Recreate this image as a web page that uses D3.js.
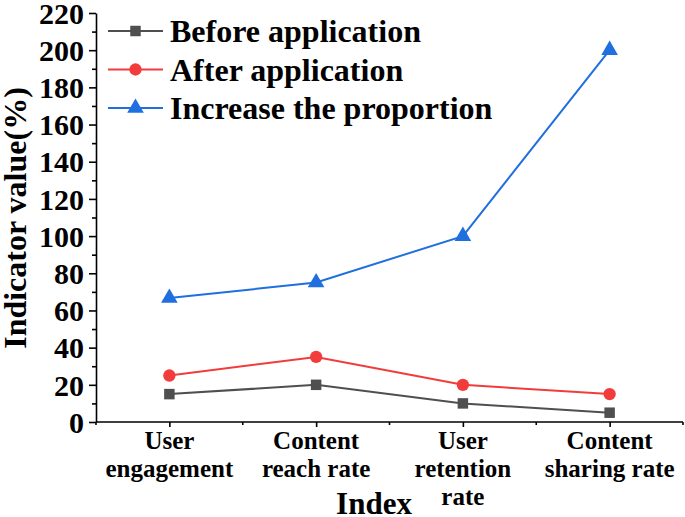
<!DOCTYPE html>
<html>
<head>
<meta charset="utf-8">
<script src="https://cdn.jsdelivr.net/npm/d3@7"></script>
<style>
  body { margin: 0; background: #fff; }
  text { font-family: "Liberation Serif", "Times New Roman", serif; font-weight: bold; fill: #000; }
  .axis path, .axis line { stroke: #000; stroke-width: 1.6; }
</style>
</head>
<body>
<script>
var categories = [["User", "engagement"], ["Content", "reach rate"], ["User", "retention", "rate"], ["Content", "sharing rate"]];
var seriesNames = ["Before application", "After application", "Increase the proportion"];
var before = [15, 20, 10, 5];
var after = [25, 35, 20, 15];
var increase = [66.7, 75, 100, 200];
var yTicks = [0, 20, 40, 60, 80, 100, 120, 140, 160, 180, 200, 220];
var colors = ["#4f4f4f", "#f23c3c", "#1f6fdf"];

var W = 685, H = 517;
var plotLeft = 96, plotRight = 683, plotTop = 13, plotBottom = 422;

var svg = d3.select("body").append("svg")
    .attr("width", W)
    .attr("height", H);

var x = d3.scalePoint()
    .domain(d3.range(categories.length))
    .range([plotLeft, plotRight])
    .padding(0.5);

var y = d3.scaleLinear()
    .domain([0, 220])
    .range([plotBottom, plotTop]);

// y axis, minor then major ticks
var yMinor = d3.range(10, 220, 20);
svg.append("g")
    .attr("class", "axis")
    .attr("transform", "translate(" + plotLeft + ",0)")
    .call(d3.axisLeft(y).tickValues(yMinor).tickSize(4).tickFormat(""))
    .call(g => g.select(".domain").remove());

svg.append("g")
    .attr("class", "axis")
    .attr("transform", "translate(" + plotLeft + ",0)")
    .call(d3.axisLeft(y).tickValues(yTicks).tickSize(7).tickSizeOuter(0).tickPadding(5))
    .selectAll("text")
    .style("font-size", "30px")
    .attr("dy", "0.34em");

// x axis
var step = x.step();
var xMinor = d3.range(categories.length + 1).map(i => plotLeft + i * step);
svg.append("g")
    .attr("class", "axis")
    .selectAll("line.minor")
    .data(xMinor)
    .enter()
    .append("line")
    .attr("x1", d => d).attr("x2", d => d)
    .attr("y1", plotBottom).attr("y2", plotBottom + 3);

var xAxis = svg.append("g")
    .attr("class", "axis")
    .attr("transform", "translate(0," + plotBottom + ")")
    .call(d3.axisBottom(x).tickSize(5).tickSizeOuter(0).tickFormat(""));
xAxis.select(".domain").attr("d", "M" + plotLeft + ",0H" + plotRight);

svg.append("g")
    .selectAll("text")
    .data(categories)
    .enter()
    .append("text")
    .attr("text-anchor", "middle")
    .style("font-size", "25px")
    .attr("transform", (d, i) => "translate(" + x(i) + ",449)")
    .each(function (d) {
        var t = d3.select(this);
        d.forEach(function (line, j) {
            t.append("tspan").attr("x", 0).attr("y", j * 28).text(line);
        });
    });

// axis titles
svg.append("text")
    .attr("x", 374)
    .attr("y", 514)
    .attr("text-anchor", "middle")
    .style("font-size", "31px")
    .text("Index");

svg.append("text")
    .attr("transform", "translate(26,218) rotate(-90)")
    .attr("text-anchor", "middle")
    .style("font-size", "32px")
    .text("Indicator value(%)");

// series
var series = [before, after, increase];
var shapes = [d3.symbolSquare, d3.symbolCircle, d3.symbolTriangle];
var sizes = [110, 120, 120];

var line = d3.line()
    .x((d, i) => x(i))
    .y(d => y(d));

series.forEach(function (vals, s) {
    svg.append("path")
        .datum(vals)
        .attr("fill", "none")
        .attr("stroke", colors[s])
        .attr("stroke-width", 2)
        .attr("d", line);

    svg.append("g")
        .selectAll("path")
        .data(vals)
        .enter()
        .append("path")
        .attr("d", d3.symbol().type(shapes[s]).size(sizes[s]))
        .attr("transform", (d, i) => "translate(" + x(i) + "," + y(d) + ")")
        .attr("fill", colors[s]);
});

// legend
var legend = svg.append("g")
    .selectAll("g")
    .data(seriesNames)
    .enter()
    .append("g")
    .attr("transform", (d, i) => "translate(108," + (31 + i * 38.5) + ")");

legend.append("line")
    .attr("x1", 0).attr("x2", 55)
    .attr("stroke", (d, i) => colors[i])
    .attr("stroke-width", 2);

legend.append("path")
    .attr("d", (d, i) => d3.symbol().type(shapes[i]).size(sizes[i])())
    .attr("transform", "translate(27.5,0)")
    .attr("fill", (d, i) => colors[i]);

legend.append("text")
    .attr("x", 62)
    .attr("dy", "0.35em")
    .style("font-size", "32px")
    .text(d => d);
</script>
</body>
</html>
